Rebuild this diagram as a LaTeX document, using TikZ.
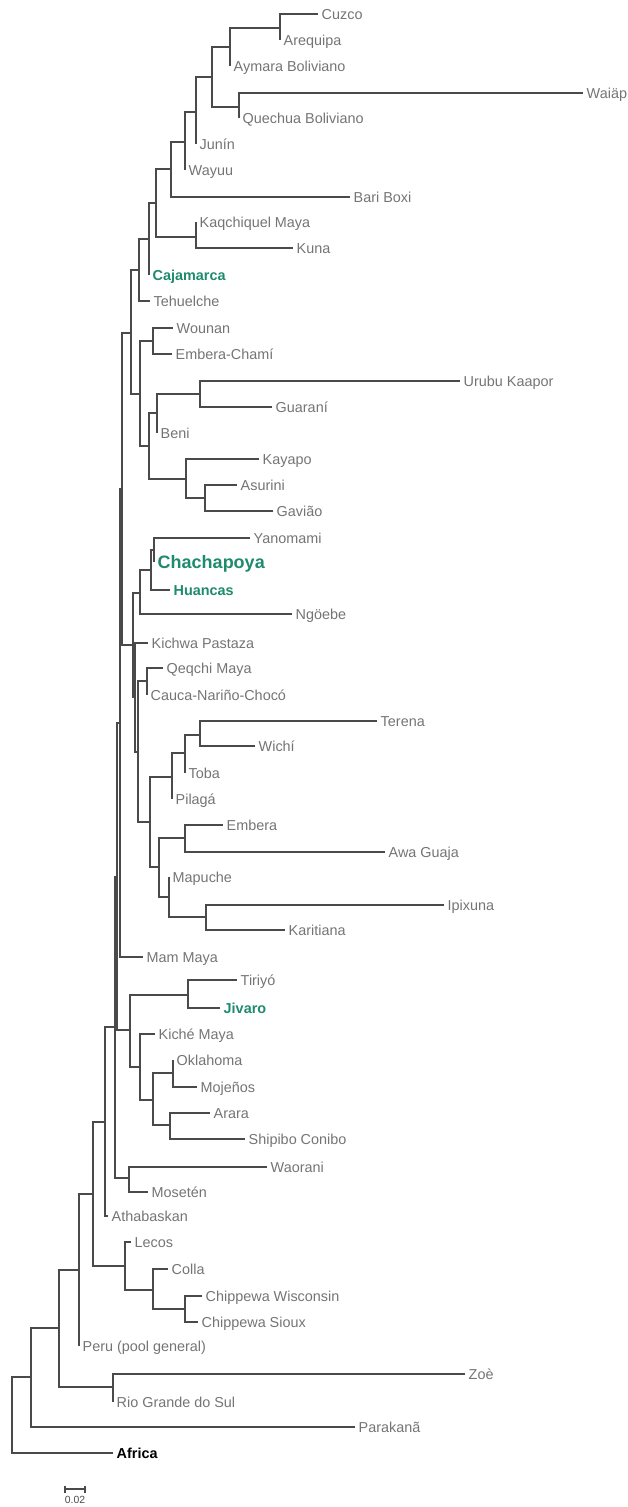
\documentclass[tikz,border=0pt]{standalone}
\usepackage{fontspec}
\setmainfont{Liberation Sans}
\definecolor{linegray}{HTML}{4A4A4A}
\definecolor{labelgray}{HTML}{747474}
\definecolor{tealgreen}{HTML}{1E8A6E}
\begin{document}
\begin{tikzpicture}[x=0.75pt, y=-0.75pt,
        branch/.style={draw=linegray, line width=0.9pt},
        leaf/.style={anchor=west, inner xsep=2.6pt, inner ysep=0pt, text height=7.7pt, text depth=0pt,
            font=\fontsize{10.8}{12}\selectfont, text=labelgray},
        hilite/.style={leaf, font=\fontsize{10.8}{12}\selectfont\bfseries, text=tealgreen},
        bighilite/.style={leaf, text height=9.7pt, font=\fontsize{13.5}{15}\selectfont\bfseries, text=tealgreen},
        outgroup/.style={leaf, font=\fontsize{10.8}{12}\selectfont\bfseries, text=black}
    ]
        \useasboundingbox (0,0) rectangle (628,1507);

        % leaves
        \node[leaf] (cuzco) at (318,14) {Cuzco};
        \node[leaf] (arequipa) at (280,40) {Arequipa};
        \node[leaf] (aymara) at (230,66) {Aymara Boliviano};
        \node[leaf] (waiap) at (583,93) {Waiäp};
        \node[leaf] (quechua) at (239,118) {Quechua Boliviano};
        \node[leaf] (junin) at (196,144) {Junín};
        \node[leaf] (wayuu) at (185,170) {Wayuu};
        \node[leaf] (bari) at (350,197) {Bari Boxi};
        \node[leaf] (kaqchiquel) at (196,222) {Kaqchiquel Maya};
        \node[leaf] (kuna) at (293,248) {Kuna};
        \node[hilite] (cajamarca) at (149,275) {Cajamarca};
        \node[leaf] (tehuelche) at (150,301) {Tehuelche};
        \node[leaf] (wounan) at (173,328) {Wounan};
        \node[leaf] (emberachami) at (172,354) {Embera-Chamí};
        \node[leaf] (urubu) at (460,381) {Urubu Kaapor};
        \node[leaf] (guarani) at (272,407) {Guaraní};
        \node[leaf] (beni) at (157,433) {Beni};
        \node[leaf] (kayapo) at (259,459) {Kayapo};
        \node[leaf] (asurini) at (237,485) {Asurini};
        \node[leaf] (gaviao) at (273,511) {Gavião};
        \node[leaf] (yanomami) at (250,538) {Yanomami};
        \node[bighilite] (chachapoya) at (154,562) {Chachapoya};
        \node[hilite] (huancas) at (170,590) {Huancas};
        \node[leaf] (ngoebe) at (292,614) {Ngöebe};
        \node[leaf] (kichwa) at (148,643) {Kichwa Pastaza};
        \node[leaf] (qeqchi) at (163,668) {Qeqchi Maya};
        \node[leaf] (cauca) at (147,695) {Cauca-Nariño-Chocó};
        \node[leaf] (terena) at (377,721) {Terena};
        \node[leaf] (wichi) at (255,746) {Wichí};
        \node[leaf] (toba) at (185,773) {Toba};
        \node[leaf] (pilaga) at (172,799) {Pilagá};
        \node[leaf] (embera) at (223,825) {Embera};
        \node[leaf] (awaguaja) at (385,852) {Awa Guaja};
        \node[leaf] (mapuche) at (169,877) {Mapuche};
        \node[leaf] (ipixuna) at (444,905) {Ipixuna};
        \node[leaf] (karitiana) at (285,930) {Karitiana};
        \node[leaf] (mammaya) at (143,957) {Mam Maya};
        \node[leaf] (tiriyo) at (237,980) {Tiriyó};
        \node[hilite] (jivaro) at (220,1008) {Jivaro};
        \node[leaf] (kiche) at (155,1034) {Kiché Maya};
        \node[leaf] (oklahoma) at (173,1060) {Oklahoma};
        \node[leaf] (mojenos) at (197,1087) {Mojeños};
        \node[leaf] (arara) at (210,1113) {Arara};
        \node[leaf] (shipibo) at (245,1139) {Shipibo Conibo};
        \node[leaf] (waorani) at (267,1167) {Waorani};
        \node[leaf] (moseten) at (148,1192) {Mosetén};
        \node[leaf] (athabaskan) at (108,1216) {Athabaskan};
        \node[leaf] (lecos) at (131,1242) {Lecos};
        \node[leaf] (colla) at (168,1269) {Colla};
        \node[leaf] (chipw) at (202,1296) {Chippewa Wisconsin};
        \node[leaf] (chips) at (198,1322) {Chippewa Sioux};
        \node[leaf] (peru) at (79,1346) {Peru (pool general)};
        \node[leaf] (zoe) at (465,1374) {Zoè};
        \node[leaf] (riogrande) at (113,1402) {Rio Grande do Sul};
        \node[leaf] (parakana) at (355,1427) {Parakanã};
        \node[outgroup] (africa) at (113,1453) {Africa};

        % internal nodes
        \coordinate (n1) at (280,28);
        \coordinate (n2) at (230,47);
        \coordinate (n3) at (239,107);
        \coordinate (n4) at (212,77);
        \coordinate (n5) at (196,112);
        \coordinate (n6) at (185,142);
        \coordinate (n7) at (171,169);
        \coordinate (n8) at (196,237);
        \coordinate (n9) at (156,203);
        \coordinate (n10) at (149,239);
        \coordinate (n11) at (139,270);
        \coordinate (n12) at (153,341);
        \coordinate (n13) at (200,394);
        \coordinate (n14) at (157,413);
        \coordinate (n15) at (205,498);
        \coordinate (n16) at (186,479);
        \coordinate (n17) at (149,446);
        \coordinate (n18) at (140,394);
        \coordinate (n19) at (131,333);
        \coordinate (n20) at (154,550);
        \coordinate (n21) at (151,570);
        \coordinate (n22) at (140,593);
        \coordinate (n23) at (147,681);
        \coordinate (n24) at (200,735);
        \coordinate (n25) at (185,753);
        \coordinate (n26) at (172,777);
        \coordinate (n27) at (185,838);
        \coordinate (n28) at (206,917);
        \coordinate (n29) at (169,897);
        \coordinate (n30) at (159,867);
        \coordinate (n31) at (150,822);
        \coordinate (n32) at (138,752);
        \coordinate (n33) at (135,697);
        \coordinate (n34) at (133,645);
        \coordinate (n35) at (122,489);
        \coordinate (n36) at (120,723);
        \coordinate (n37) at (188,995);
        \coordinate (n38) at (173,1073);
        \coordinate (n39) at (170,1125);
        \coordinate (n40) at (153,1100);
        \coordinate (n41) at (140,1067);
        \coordinate (n42) at (130,1030);
        \coordinate (n43) at (117,877);
        \coordinate (n44) at (129,1178);
        \coordinate (n45) at (115,1027);
        \coordinate (n46) at (105,1122);
        \coordinate (n47) at (185,1309);
        \coordinate (n48) at (153,1290);
        \coordinate (n49) at (125,1266);
        \coordinate (n50) at (93,1194);
        \coordinate (n51) at (79,1270);
        \coordinate (n52) at (113,1387);
        \coordinate (n53) at (59,1328);
        \coordinate (n54) at (31,1377);
        \coordinate (root) at (12,1415);

        % branches
        \draw[branch] (n1) |- (cuzco.west) (n1) |- (arequipa.west);
        \draw[branch] (n2) |- (n1) (n2) |- (aymara.west);
        \draw[branch] (n3) |- (waiap.west) (n3) |- (quechua.west);
        \draw[branch] (n4) |- (n2) (n4) |- (n3);
        \draw[branch] (n5) |- (n4) (n5) |- (junin.west);
        \draw[branch] (n6) |- (n5) (n6) |- (wayuu.west);
        \draw[branch] (n7) |- (n6) (n7) |- (bari.west);
        \draw[branch] (n8) |- (kaqchiquel.west) (n8) |- (kuna.west);
        \draw[branch] (n9) |- (n7) (n9) |- (n8);
        \draw[branch] (n10) |- (n9) (n10) |- (cajamarca.west);
        \draw[branch] (n11) |- (n10) (n11) |- (tehuelche.west);
        \draw[branch] (n12) |- (wounan.west) (n12) |- (emberachami.west);
        \draw[branch] (n13) |- (urubu.west) (n13) |- (guarani.west);
        \draw[branch] (n14) |- (n13) (n14) |- (beni.west);
        \draw[branch] (n15) |- (asurini.west) (n15) |- (gaviao.west);
        \draw[branch] (n16) |- (kayapo.west) (n16) |- (n15);
        \draw[branch] (n17) |- (n14) (n17) |- (n16);
        \draw[branch] (n18) |- (n12) (n18) |- (n17);
        \draw[branch] (n19) |- (n11) (n19) |- (n18);
        \draw[branch] (n20) |- (yanomami.west) (n20) |- (chachapoya.west);
        \draw[branch] (n21) |- (n20) (n21) |- (huancas.west);
        \draw[branch] (n22) |- (n21) (n22) |- (ngoebe.west);
        \draw[branch] (n23) |- (qeqchi.west) (n23) |- (cauca.west);
        \draw[branch] (n24) |- (terena.west) (n24) |- (wichi.west);
        \draw[branch] (n25) |- (n24) (n25) |- (toba.west);
        \draw[branch] (n26) |- (n25) (n26) |- (pilaga.west);
        \draw[branch] (n27) |- (embera.west) (n27) |- (awaguaja.west);
        \draw[branch] (n28) |- (ipixuna.west) (n28) |- (karitiana.west);
        \draw[branch] (n29) |- (mapuche.west) (n29) |- (n28);
        \draw[branch] (n30) |- (n27) (n30) |- (n29);
        \draw[branch] (n31) |- (n26) (n31) |- (n30);
        \draw[branch] (n32) |- (n23) (n32) |- (n31);
        \draw[branch] (n33) |- (kichwa.west) (n33) |- (n32);
        \draw[branch] (n34) |- (n22) (n34) |- (n33);
        \draw[branch] (n35) |- (n19) (n35) |- (n34);
        \draw[branch] (n36) |- (n35) (n36) |- (mammaya.west);
        \draw[branch] (n37) |- (tiriyo.west) (n37) |- (jivaro.west);
        \draw[branch] (n38) |- (oklahoma.west) (n38) |- (mojenos.west);
        \draw[branch] (n39) |- (arara.west) (n39) |- (shipibo.west);
        \draw[branch] (n40) |- (n38) (n40) |- (n39);
        \draw[branch] (n41) |- (kiche.west) (n41) |- (n40);
        \draw[branch] (n42) |- (n37) (n42) |- (n41);
        \draw[branch] (n43) |- (n36) (n43) |- (n42);
        \draw[branch] (n44) |- (waorani.west) (n44) |- (moseten.west);
        \draw[branch] (n45) |- (n43) (n45) |- (n44);
        \draw[branch] (n46) |- (n45) (n46) |- (athabaskan.west);
        \draw[branch] (n47) |- (chipw.west) (n47) |- (chips.west);
        \draw[branch] (n48) |- (colla.west) (n48) |- (n47);
        \draw[branch] (n49) |- (lecos.west) (n49) |- (n48);
        \draw[branch] (n50) |- (n46) (n50) |- (n49);
        \draw[branch] (n51) |- (n50) (n51) |- (peru.west);
        \draw[branch] (n52) |- (zoe.west) (n52) |- (riogrande.west);
        \draw[branch] (n53) |- (n51) (n53) |- (n52);
        \draw[branch] (n54) |- (n53) (n54) |- (parakana.west);
        \draw[branch] (root) |- (n54) (root) |- (africa.west);

        % scale bar
        \coordinate (barleft) at (65,1489);
        \coordinate (barright) at (85,1489);
        \draw[branch] (barleft) -- (barright);
        \draw[branch] (barleft) ++(0,-3.5) -- ++(0,7) (barright) ++(0,-3.5) -- ++(0,7);
        \node[inner sep=0pt, font=\fontsize{7.8}{9}\selectfont, text=linegray] (scale) at (75,1500) {0.02};
    \end{tikzpicture}
\end{document}
